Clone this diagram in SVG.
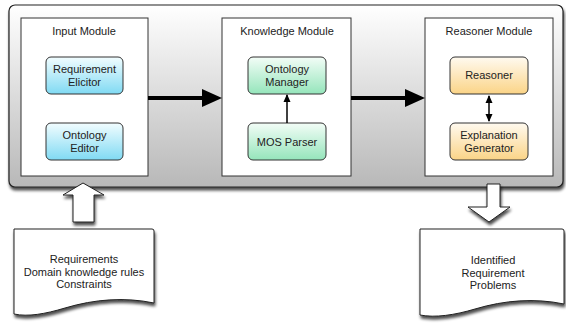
<svg xmlns="http://www.w3.org/2000/svg" width="566" height="327" viewBox="0 0 566 327">
<defs>
<linearGradient id="gBg" x1="0" y1="0" x2="0" y2="1"><stop offset="0" stop-color="#ffffff"/><stop offset="1" stop-color="#b8b8b8"/></linearGradient>
<linearGradient id="gBlue" x1="0" y1="0" x2="0" y2="1"><stop offset="0" stop-color="#f2fdff"/><stop offset="1" stop-color="#80daf3"/></linearGradient>
<linearGradient id="gGreen" x1="0" y1="0" x2="0" y2="1"><stop offset="0" stop-color="#f3fdf7"/><stop offset="1" stop-color="#95e5bb"/></linearGradient>
<linearGradient id="gOrange" x1="0" y1="0" x2="0" y2="1"><stop offset="0" stop-color="#fffaf0"/><stop offset="1" stop-color="#fbd487"/></linearGradient>
<filter id="sh" x="-10%" y="-10%" width="130%" height="130%"><feGaussianBlur in="SourceAlpha" stdDeviation="1.5"/><feOffset dx="1" dy="2.5" result="b"/><feComponentTransfer><feFuncA type="linear" slope="0.7"/></feComponentTransfer><feMerge><feMergeNode/><feMergeNode in="SourceGraphic"/></feMerge></filter>
<marker id="ah" markerWidth="8" markerHeight="8" refX="7" refY="4" orient="auto" markerUnits="userSpaceOnUse"><path d="M0,0.5 L8,4 L0,7.5 Z" fill="#000"/></marker>
<marker id="ahs" markerWidth="8" markerHeight="8" refX="1" refY="4" orient="auto" markerUnits="userSpaceOnUse"><path d="M8,0.5 L0,4 L8,7.5 Z" fill="#000"/></marker>
</defs>
<style>
text{font-family:"Liberation Sans",Arial,sans-serif;font-size:11px;fill:#222;text-anchor:middle}
.mod{fill:#fff;stroke:#333;stroke-width:1}
.node{stroke:#333;stroke-width:1}
.blk{fill:#fff;stroke:#222;stroke-width:1;filter:url(#sh)}
</style>
<g id="container"><rect x="9" y="5" width="554" height="182" rx="6" fill="url(#gBg)" stroke="#222" stroke-width="1.2" filter="url(#sh)"/></g>
<g id="input-module"><rect class="mod" x="21" y="18" width="127" height="158"/><text x="84" y="35">Input Module</text></g>
<g id="knowledge-module"><rect class="mod" x="222" y="18" width="129" height="158"/><text x="287" y="35">Knowledge Module</text></g>
<g id="reasoner-module"><rect class="mod" x="425" y="18" width="128" height="158"/><text x="489" y="35">Reasoner Module</text></g>
<g id="requirement-elicitor"><rect class="node" x="46" y="57" width="77" height="37" rx="5" fill="url(#gBlue)"/><text x="84.5" y="73">Requirement</text><text x="84.5" y="86">Elicitor</text></g>
<g id="ontology-editor"><rect class="node" x="46" y="123" width="77" height="37" rx="5" fill="url(#gBlue)"/><text x="84.5" y="139">Ontology</text><text x="84.5" y="152">Editor</text></g>
<g id="ontology-manager"><rect class="node" x="248" y="57" width="78" height="37" rx="5" fill="url(#gGreen)"/><text x="287" y="73">Ontology</text><text x="287" y="86">Manager</text></g>
<g id="mos-parser"><rect class="node" x="248" y="123" width="78" height="37" rx="5" fill="url(#gGreen)"/><text x="287" y="146">MOS Parser</text></g>
<g id="reasoner"><rect class="node" x="450" y="57" width="78" height="37" rx="5" fill="url(#gOrange)"/><text x="489" y="79">Reasoner</text></g>
<g id="explanation-generator"><rect class="node" x="450" y="123" width="78" height="37" rx="5" fill="url(#gOrange)"/><text x="489" y="139">Explanation</text><text x="489" y="152">Generator</text></g>
<g id="input-doc"><path class="blk" d="M14,229 L152,229 Q154,229 154,231 L154,303 C125,297 95,299 65,308 C45,314 28,317 14,314 Z"/><text x="84" y="263">Requirements</text><text x="84" y="276">Domain knowledge rules</text><text x="84" y="288">Constraints</text></g>
<g id="output-doc"><path class="blk" d="M420,229 L562,229 Q564,229 564,231 L564,304 C535,298 505,300 475,309 C455,315 435,318 420,315 Z"/><text x="493" y="264">Identified</text><text x="493" y="277">Requirement</text><text x="493" y="289">Problems</text></g>
<g id="connectors">
<line x1="148" y1="98" x2="204" y2="98" stroke="#000" stroke-width="4"/>
<path d="M202,89 L222,98 L202,107 Z" fill="#000"/>
<line x1="351" y1="98" x2="407" y2="98" stroke="#000" stroke-width="4"/>
<path d="M405,89 L425,98 L405,107 Z" fill="#000"/>
<line x1="287" y1="123" x2="287" y2="95" stroke="#000" stroke-width="1.5" marker-end="url(#ah)"/>
<line x1="489" y1="96" x2="489" y2="121" stroke="#000" stroke-width="1.5" marker-start="url(#ahs)" marker-end="url(#ah)"/>
<path class="blk" d="M83,183 L104,195 L94,195 L94,222 L73,222 L73,195 L63,195 Z"/>
<path class="blk" d="M487,184 L500,184 L500,207 L510,207 L489,222 L468,207 L487,207 Z"/>
</g>
</svg>
